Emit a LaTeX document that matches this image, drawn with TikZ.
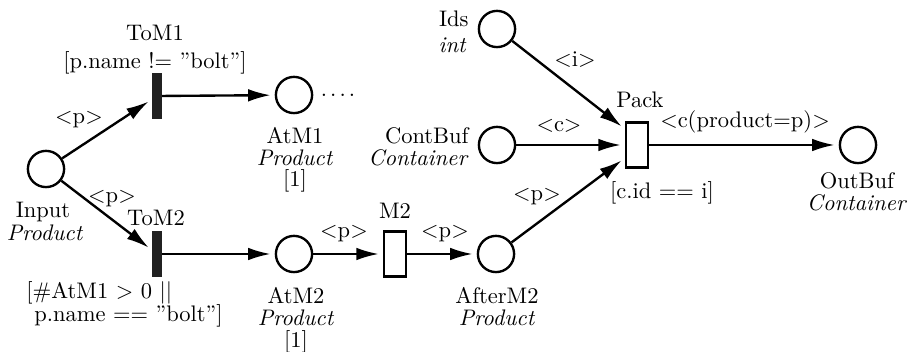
\documentclass[tikz,border=0pt]{standalone}
\usetikzlibrary{arrows.meta}
\definecolor{barcol}{gray}{0.13}
\newcommand{\qq}{\textquotedblright}
\begin{document}
\begin{tikzpicture}[x=0.4444pt,y=-0.4444pt,
  place/.style={circle,draw,line width=1.05pt,minimum size=16.1pt,inner sep=0pt},
  trans/.style={rectangle,draw,line width=1.05pt,minimum width=9.7pt,minimum height=19.9pt,inner sep=0pt},
  bar/.style={rectangle,draw=barcol,fill=barcol,line width=1pt,minimum width=3.45pt,minimum height=19.1pt,inner sep=0pt},
  txt/.style={inner sep=0pt,anchor=base},
  rtxt/.style={inner sep=0pt,anchor=base east},
  ltxt/.style={inner sep=0pt,anchor=base west},
  arc/.style={-{Latex[length=10pt,width=5.6pt]},line width=1.05pt,shorten >=1.8pt}]
\useasboundingbox (0,0) rectangle (909,352);

% places
\node[place] (Input)   at (46,169)  {};
\node[place] (AtM1)    at (294,95)  {};
\node[place] (AtM2)    at (294,254) {};
\node[place] (AfterM2) at (496,254) {};
\node[place] (Ids)     at (497,29)  {};
\node[place] (ContBuf) at (497,145) {};
\node[place] (OutBuf)  at (858,145) {};

% transitions
\node[bar]   (ToM1) at (157,96)  {};
\node[bar]   (ToM2) at (157,254) {};
\node[trans] (M2)   at (395,254) {};
\node[trans] (Pack) at (637,145) {};

% arcs
\draw[arc] (Input) -- (ToM1);
\draw[arc] (Input) -- (ToM2);
\draw[arc] (ToM1) -- (AtM1);
\draw[arc] (ToM2) -- (AtM2);
\draw[arc] (AtM2) -- (M2);
\draw[arc] (M2) -- (AfterM2);
\draw[arc] (AfterM2) -- (Pack.227);
\draw[arc] (Ids) -- (Pack.127);
\draw[arc] (ContBuf) -- (Pack);
\draw[arc] (Pack) -- (OutBuf);

% arc inscriptions
\node[txt] (e1) at (79,124)  {$<$p$>$};
\node[txt] (e2) at (112,203) {$<$p$>$};
\node[txt] (e3) at (344,237.5) {$<$p$>$};
\node[txt] (e4) at (445,237.5) {$<$p$>$};
\node[txt] (e5) at (537,200.5) {$<$p$>$};
\node[txt] (e6) at (575,67)  {$<$i$>$};
\node[txt] (e7) at (559,132) {$<$c$>$};
\node[txt] (e8) at (745,127.5) {$<$c(product=p)$>$};

% transition names and guards
\node[txt] (nToM1) at (155,40.4) {ToM1};
\node[txt] (gToM1) at (155,69) {[p.name != \qq bolt\qq]};
\node[txt] (nToM2) at (156,225.4) {ToM2};
\node[ltxt] (gToM2a) at (26,299) {[\#AtM1 $>$ 0 $||$};
\node[ltxt] (gToM2b) at (34,322) {p.name == \qq bolt\qq]};
\node[txt] (nM2) at (395,218.4) {M2};
\node[txt] (nPack) at (640,107.4) {Pack};
\node[txt] (gPack) at (662,199) {[c.id == i]};

% place names, colour sets and initial markings
\node[txt] (lInput) at (43,217.5) {Input};
\node[txt] (tInput) at (45,241) {\textit{Product}};
\node[txt] (lAtM1) at (295,143.4) {AtM1};
\node[txt] (tAtM1) at (295,165.5) {\textit{Product}};
\node[txt] (mAtM1) at (295,187) {[1]};
\node[ltxt] (dots) at (320.5,97) {.\kern1.35pt.\kern1.35pt.\kern1.35pt.};
\node[txt] (lAtM2) at (296,303.4) {AtM2};
\node[txt] (tAtM2) at (296,325.5) {\textit{Product}};
\node[txt] (mAtM2) at (296,348) {[1]};
\node[txt] (lAfterM2) at (497,303.4) {AfterM2};
\node[txt] (tAfterM2) at (497,325.5) {\textit{Product}};
\node[rtxt] (lIds) at (469,27) {Ids};
\node[rtxt] (tIds) at (467,53) {\textit{int}};
\node[rtxt] (lContBuf) at (469,143.4) {ContBuf};
\node[rtxt] (tContBuf) at (469,165.5) {\textit{Container}};
\node[txt] (lOutBuf) at (857,188.4) {OutBuf};
\node[txt] (tOutBuf) at (857,210.4) {\textit{Container}};
\end{tikzpicture}
\end{document}
